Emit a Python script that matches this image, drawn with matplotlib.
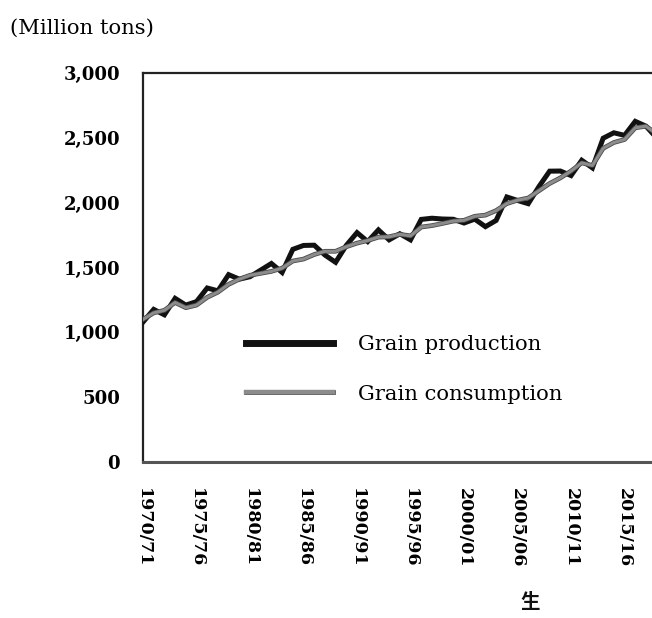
import matplotlib
matplotlib.use("Agg")
import matplotlib.pyplot as plt
import matplotlib.patheffects as pe
from matplotlib.ticker import FuncFormatter

# crop years 1970/71 .. 2018/19 (right end runs off the page in the scan)
years = [f"{y}/{str(y + 1)[-2:]}" for y in range(1970, 2019)]

production = [
    1079, 1177, 1135, 1262, 1210, 1237, 1342, 1320, 1445, 1410,
    1429, 1480, 1531, 1462, 1640, 1670, 1672, 1596, 1540, 1671,
    1769, 1700, 1790, 1713, 1760, 1713, 1871, 1880, 1874, 1872,
    1843, 1873, 1815, 1863, 2044, 2017, 1992, 2124, 2243, 2244,
    2209, 2327, 2268, 2497, 2539, 2519, 2627, 2590, 2500,
]
consumption = [
    1100, 1150, 1170, 1230, 1190, 1210, 1270, 1310, 1370, 1410,
    1440, 1455, 1470, 1495, 1550, 1565, 1600, 1625, 1625, 1660,
    1688, 1708, 1734, 1737, 1756, 1744, 1812, 1823, 1840, 1858,
    1864, 1895, 1904, 1939, 1993, 2019, 2036, 2092, 2148, 2191,
    2244, 2307, 2287, 2419, 2464, 2487, 2577, 2590, 2530,
]

tick_idx = list(range(0, 46, 5))
y_ticks = [0, 500, 1000, 1500, 2000, 2500, 3000]

SERIF = "DejaVu Serif"

fig = plt.figure(figsize=(6.52, 6.18), dpi=100)
# axes runs past the right edge like the cropped scan
ax = fig.add_axes([143 / 652, 156 / 618, 519 / 652, 389 / 618])

x = list(range(len(years)))
ax.plot(x, production, color="#111111", linewidth=3.6, solid_joinstyle="miter",
        label="Grain production", zorder=3)
ax.plot(x, consumption, color="#8c8c8c", linewidth=2.2, zorder=4,
        label="Grain consumption",
        path_effects=[pe.Stroke(linewidth=3.4, foreground="#4a4a4a"), pe.Normal()])

ax.set_xlim(0, 48.5)
ax.set_ylim(0, 3000)
ax.set_yticks(y_ticks)
ax.yaxis.set_major_formatter(FuncFormatter(lambda v, p: f"{int(v):,}"))
ax.set_xticks(tick_idx)
ax.set_xticklabels([years[i] for i in tick_idx], rotation=-90, va="top", ha="center")

ax.tick_params(axis="y", length=0, pad=16.5, labelsize=13)
ax.tick_params(axis="x", length=0, pad=18.5, labelsize=12.5)
for lab in ax.get_yticklabels() + ax.get_xticklabels():
    lab.set_fontfamily(SERIF)
    lab.set_fontweight("bold")

for s in ["left", "top", "bottom"]:
    ax.spines[s].set_linewidth(1.6)
    ax.spines[s].set_color("#222222")
ax.spines["bottom"].set_color("#555555")
ax.spines["bottom"].set_linewidth(2.2)
ax.spines["right"].set_visible(False)

LFS = 15.2
leg = ax.legend(loc="upper left", bbox_to_anchor=(227 / 652, 1 - 316 / 618),
                bbox_transform=fig.transFigure, frameon=False,
                handlelength=4.1, handletextpad=1.2, labelspacing=1.45,
                prop={"family": SERIF, "size": LFS})
for line in leg.get_lines():
    line.set_linewidth(5)
leg.get_lines()[1].set_linewidth(3.2)

fig.text(10 / 652, 1 - 28 / 618, "(Million tons)", family=SERIF, fontsize=15.2,
         va="center", ha="left")

# stray character bleeding through from the facing page of the scan
fig.text(530 / 652, 1 - 603 / 618, "生", family=["Noto Sans CJK JP", "DejaVu Sans"],
         fontsize=14, fontweight="bold", va="center", ha="center", color="#111111")

fig.savefig("out.png", dpi=100, facecolor="white")
